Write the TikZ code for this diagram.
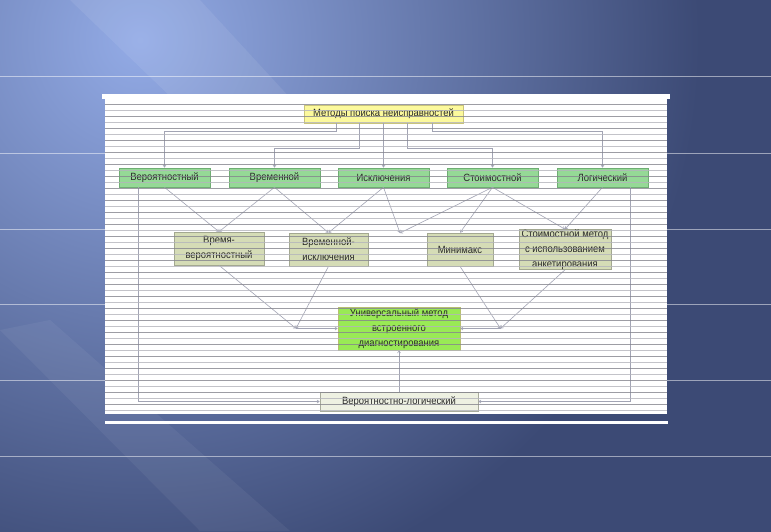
\documentclass[tikz,border=0pt]{standalone}
\usepackage{fontspec}
\setmainfont{Liberation Sans}[FakeStretch=0.9]
\usetikzlibrary{arrows.meta,calc}
\definecolor{bgdark}{HTML}{3C4A75}
\definecolor{bglight}{HTML}{93ABE6}
\definecolor{topfill}{HTML}{FCF99C}
\definecolor{topline}{HTML}{C9C47A}
\definecolor{catfill}{HTML}{95D996}
\definecolor{catline}{HTML}{6FAE73}
\definecolor{combfill}{HTML}{D5DCB6}
\definecolor{combline}{HTML}{A3A891}
\definecolor{unifill}{HTML}{99EA55}
\definecolor{uniline}{HTML}{B8C070}
\definecolor{vlfill}{HTML}{EEF1E2}
\definecolor{vlline}{HTML}{A8AB9C}
\definecolor{linec}{HTML}{A2A4B4}
\definecolor{textc}{HTML}{2A2A2A}
\definecolor{ruleA}{HTML}{85858E}
\definecolor{ruleB}{HTML}{B4B4BC}
\pgfdeclareradialshading{bgsh}{\pgfpointorigin}{color(0bp)=(bglight); color(14bp)=(bgdark); color(50bp)=(bgdark)}
\begin{document}
\begin{tikzpicture}[x=1pt,y=-1pt,
  nodebase/.style={line width=0.6pt, inner sep=0pt, align=center, text=textc,
    font=\fontsize{10.5}{15}\selectfont},
  topbox/.style={nodebase, draw=topline, fill=topfill, minimum width=159pt, minimum height=18pt},
  catbox/.style={nodebase, draw=catline, fill=catfill, minimum width=91pt, minimum height=19pt},
  combbox/.style={nodebase, draw=combline, fill=combfill, minimum height=33pt},
  unibox/.style={nodebase, draw=uniline, fill=unifill, minimum width=122pt, minimum height=43pt},
  vlbox/.style={nodebase, draw=vlline, fill=vlfill, minimum width=158pt, minimum height=19pt},
  conn/.style={draw=linec, line width=0.6pt},
  arr/.style={conn, -{Straight Barb[length=2.2pt,width=3pt]}},
  bgrule/.style={draw=white, opacity=0.5, line width=0.9pt}
]
\useasboundingbox (0,0) rectangle (771,531);
% background
\fill[bgdark] (0,0) rectangle (771,531);
\begin{scope}
  \clip (0,0) rectangle (771,531);
  \shade[shading=bgsh] (140,40) circle [radius=1000];
  \fill[white, opacity=0.08] (70,0) -- (200,0) -- (430,250) -- (330,250) -- cycle;
  \fill[white, opacity=0.05] (0,330) -- (50,320) -- (290,531) -- (200,531) -- cycle;
\end{scope}
\foreach \yy in {76,153,229,304,380,456} \draw[bgrule] (0,\yy) -- (771,\yy);
% panel
\fill[white] (102,94) rectangle (670,99);
\fill[white] (105,99) rectangle (667,414);
\fill[white] (105,421) rectangle (668,423.5);
% nodes
\node[topbox] (T) at (383.5,114) {Методы поиска неисправностей};
\node[catbox] (A1) at (164.5,177.5) {Вероятностный};
\node[catbox] (A2) at (274.5,177.5) {Временной};
\node[catbox] (A3) at (383.5,177.5) {Исключения};
\node[catbox] (A4) at (492.5,177.5) {Стоимостной};
\node[catbox] (A5) at (602.5,177.5) {Логический};
\node[combbox, minimum width=90pt] (B1) at (219,248.5) {Время-\\вероятностный};
\node[combbox, minimum width=79pt] (B2) at (328.5,249.5) {Временной-\\исключения};
\node[combbox, minimum width=66pt] (B3) at (460,249.5) {Минимакс};
\node[combbox, minimum width=92pt, minimum height=39pt] (B4) at (565,249.5) {Стоимостной метод\\с использованием\\анкетирования};
\node[unibox] (U) at (399,328.5) {Универсальный метод\\встроенного\\диагностирования};
\node[vlbox] (V) at (399,401.5) {Вероятностно-логический};
% connectors top -> categories
\draw[arr] ([xshift=-47.5pt]T.south) -- ++(0,8) -| (A1.north);
\draw[arr] ([xshift=-24.5pt]T.south) -- ++(0,25) -| (A2.north);
\draw[arr] (T.south) -- (A3.north);
\draw[arr] ([xshift=24pt]T.south) -- ++(0,25) -| (A4.north);
\draw[arr] ([xshift=48.5pt]T.south) -- ++(0,8) -| (A5.north);
% categories -> combined
\coordinate (J1) at (400,233);
\draw[arr] (A1.south) -- (B1.north);
\draw[arr] (A2.south) -- (B1.north);
\draw[arr] (A2.south) -- (B2.north);
\draw[arr] (A3.south) -- (B2.north);
\draw[arr] (A3.south) -- (J1);
\draw[arr] (A4.south) -- (J1);
\draw[arr] (A4.south) -- (B3.north);
\draw[arr] (A4.south) -- (B4.north);
\draw[arr] (A5.south) -- (B4.north);
% combined -> universal
\coordinate (J2) at (296,328.5);
\coordinate (J3) at (500.5,328.5);
\draw[arr] (B1.south) -- (J2);
\draw[arr] (B2.south) -- (J2);
\draw[arr] (J2) -- (U.west);
\draw[arr] (B3.south) -- (J3);
\draw[arr] (B4.south) -- (J3);
\draw[arr] (J3) -- (U.east);
\draw[arr] (V.north) -- (U.south);
% outer loops
\draw[arr] ([xshift=-26.5pt]A1.south) |- (V.west);
\draw[arr] ([xshift=27.5pt]A5.south) |- (V.east);
% ruled paper lines
\foreach \i in {0,...,51} {
  \pgfmathsetmacro{\yy}{104.5+6*\i}
  \ifodd\i
    \draw[ruleB, line width=0.9pt, opacity=0.8] (105,\yy) -- (667,\yy);
  \else
    \draw[ruleA, line width=0.9pt, opacity=0.8] (105,\yy) -- (667,\yy);
  \fi
}
\end{tikzpicture}
\end{document}
